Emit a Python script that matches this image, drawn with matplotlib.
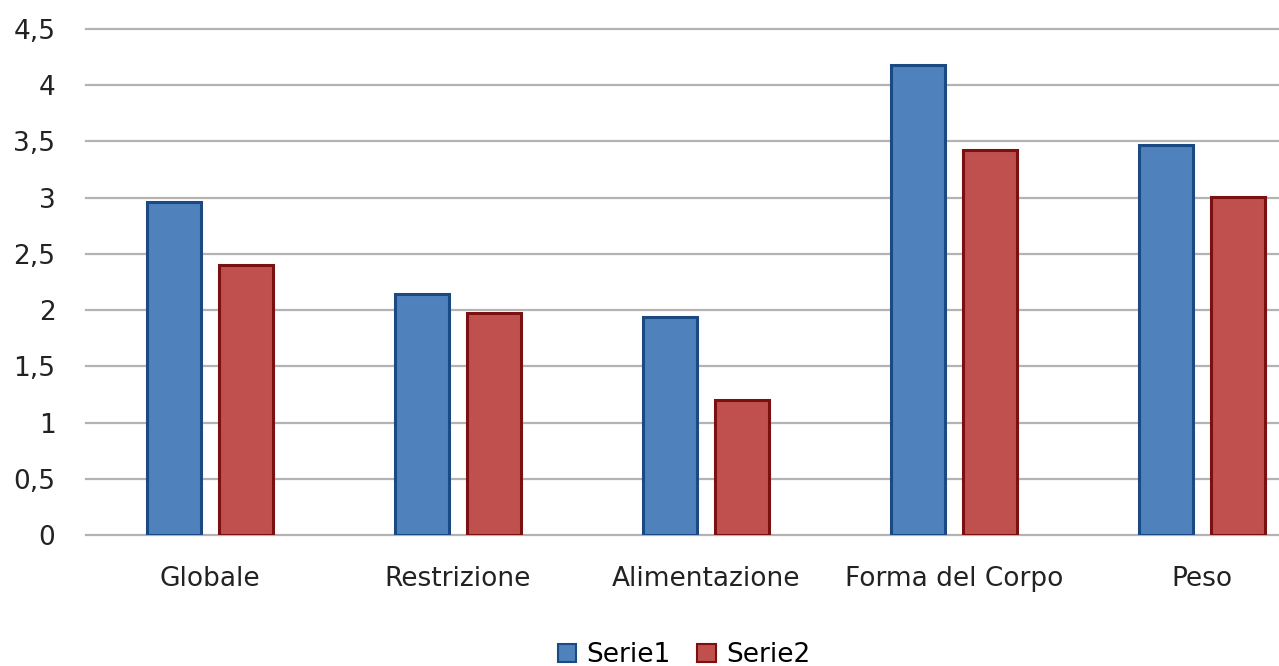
import matplotlib
matplotlib.use("Agg")
import matplotlib.pyplot as plt
from matplotlib.patches import Patch
import numpy as np

categories = ["Globale", "Restrizione", "Alimentazione", "Forma del Corpo", "Peso"]
serie1 = [2.96, 2.14, 1.94, 4.18, 3.47]
serie2 = [2.40, 1.97, 1.20, 3.42, 3.01]
yticks = [0, 0.5, 1, 1.5, 2, 2.5, 3, 3.5, 4, 4.5]
ytick_labels = ["0", "0,5", "1", "1,5", "2", "2,5", "3", "3,5", "4", "4,5"]
series_names = ["Serie1", "Serie2"]

blue_fill, blue_edge = "#4F81BD", "#1B4A82"
red_fill, red_edge = "#C0504D", "#7A1010"

W, H = 1279, 666
fig = plt.figure(figsize=(W / 100, H / 100), dpi=100)
ax = fig.add_axes([86 / W, 1 - 535 / H, (W - 86) / W, (535 - 29) / H])

x = np.arange(len(categories))
bw = 0.218
off = 0.145
ax.bar(x - off, serie1, width=bw, color=blue_fill, edgecolor=blue_edge, linewidth=2.2, zorder=3)
ax.bar(x + off, serie2, width=bw, color=red_fill, edgecolor=red_edge, linewidth=2.2, zorder=3)

ax.set_xlim(-0.5, (W - 86) / 248 - 0.5)
ax.set_ylim(0, 4.5)
ax.set_yticks(yticks)
ax.set_yticklabels(ytick_labels)
ax.set_xticks(x)
ax.set_xticklabels(categories)
ax.yaxis.grid(True, color="#B3B3B3", linewidth=1.6, zorder=0)
ax.set_axisbelow(True)
for gl in ax.get_ygridlines():
    gl.set_clip_on(False)
for s in ax.spines.values():
    s.set_visible(False)
ax.tick_params(axis="both", length=0, labelsize=19, colors="#222222")
ax.tick_params(axis="y", pad=22)
ax.tick_params(axis="x", pad=22)

handles = [Patch(facecolor=blue_fill, edgecolor=blue_edge, linewidth=1.5),
           Patch(facecolor=red_fill, edgecolor=red_edge, linewidth=1.5)]
fig.legend(handles, series_names, loc="center", bbox_to_anchor=(684 / W, 1 - 655 / H),
           ncol=2, frameon=False, fontsize=19, handlelength=0.7, handleheight=0.7,
           handletextpad=0.4, columnspacing=1.0)

fig.savefig("out.png", dpi=100, facecolor="white")
